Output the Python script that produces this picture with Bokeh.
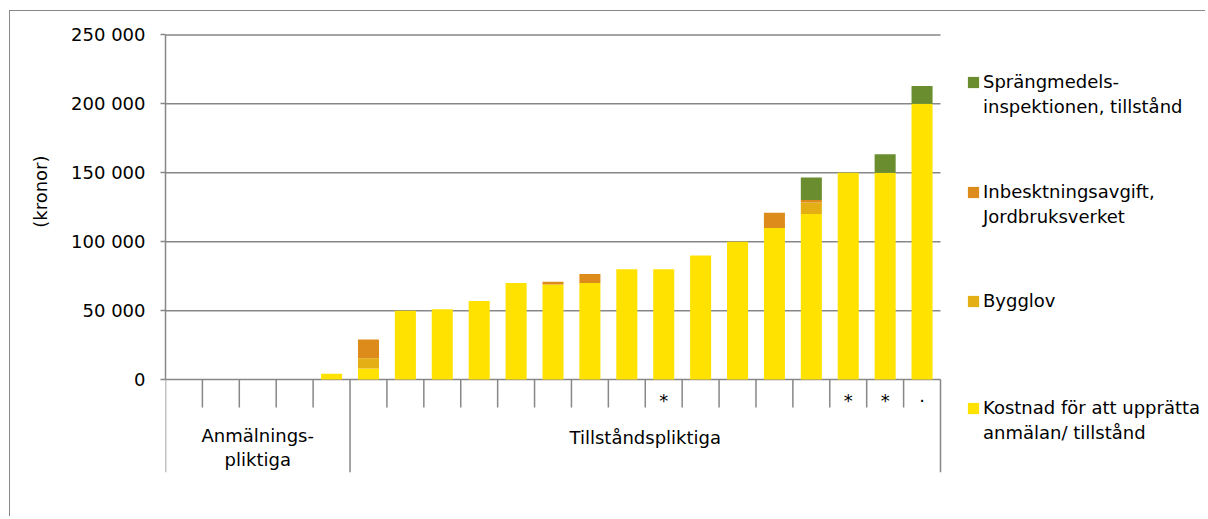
from bokeh.plotting import figure
from bokeh.models import ColumnDataSource, Range1d, FixedTicker, Legend, LegendItem, Title
from bokeh.embed import file_html
from bokeh.resources import INLINE
from bokeh.core.properties import value

# ---------------- data ----------------
categories = ["A1", "A2", "A3", "A4", "A5",
              "T1", "T2", "T3", "T4", "T5", "T6", "T7", "T8", "T9", "T10",
              "T11", "T12", "T13", "T14", "T15", "T16"]
marks = ["", "", "", "", "",
         "", "", "", "", "", "", "", "", "*", "",
         "", "", "", "*", "*", "·"]
groups = ["Anmälnings-\npliktiga", "Tillståndspliktiga"]
group_sizes = [5, 16]

kostnad = [0, 0, 0, 0, 4300,
           8000, 50000, 51000, 57000, 70000, 69000, 70000, 80000, 80000, 90000,
           100000, 110000, 120000, 150000, 150000, 200000]
bygglov = [0, 0, 0, 0, 0,
           7500, 0, 0, 0, 0, 0, 0, 0, 0, 0,
           0, 0, 8500, 0, 0, 0]
inbesk = [0, 0, 0, 0, 0,
          13500, 0, 0, 0, 0, 2000, 6500, 0, 0, 0,
          0, 11000, 1700, 0, 0, 0]
spraeng = [0, 0, 0, 0, 0,
           0, 0, 0, 0, 0, 0, 0, 0, 0, 0,
           0, 0, 16400, 0, 13500, 13000]

# legend labels, one list of lines per series
series_labels = [["Kostnad för att upprätta", "anmälan/ tillstånd"],
                 ["Bygglov"],
                 ["Inbesktningsavgift,", "Jordbruksverket"],
                 ["Sprängmedels-", "inspektionen, tillstånd"]]
series_colors = ["#FFE200", "#E4AF14", "#DD8C1B", "#6A8E2F"]

y_ticks = [0, 50000, 100000, 150000, 200000, 250000]
y_tick_labels = ["0", "50 000", "100 000", "150 000", "200 000", "250 000"]
y_title = "(kronor)"

# ---------------- layout constants ----------------
FONT = "DejaVu Sans"
GRAY = "#878787"
n = len(categories)
y_min = -67391
y_max = 251000
y_tick_len = -20290
y_mark = -15217
W, H = 1196, 506
BL, BT, BB = 155, 22, 45
x_end = n * (W - BL) / 775

src = ColumnDataSource(dict(
    x=[i + 0.5 for i in range(n)],
    kostnad=kostnad, bygglov=bygglov, inbesk=inbesk, spraeng=spraeng,
))

p = figure(width=W, height=H, output_backend="svg", toolbar_location=None,
           x_range=Range1d(0, x_end), y_range=Range1d(y_min, y_max),
           x_axis_location=None,
           min_border_left=BL, min_border_right=0,
           min_border_top=BT, min_border_bottom=BB)
p.outline_line_color = None
p.xgrid.visible = False
p.ygrid.visible = False
p.styles = {"margin-left": "9px", "margin-top": "10px",
            "border-left": "1px solid #888888", "border-top": "1px solid #888888"}

# y axis
ax = p.yaxis[0]
ax.ticker = FixedTicker(ticks=y_ticks)
ax.major_label_overrides = {t: l for t, l in zip(y_ticks, y_tick_labels)}
ax.bounds = (0, 250000)
ax.axis_line_color = GRAY
ax.axis_line_width = 1.5
ax.major_tick_line_color = GRAY
ax.major_tick_line_width = 1.5
ax.major_tick_in = 0
ax.major_tick_out = 5
ax.minor_tick_line_color = None
ax.major_label_standoff = 15
ax.major_label_text_font = FONT
ax.major_label_text_font_size = "18px"
ax.major_label_text_color = "black"

# y axis title, positioned beside the value part of the axis
p.add_layout(Title(text=y_title, align="right", offset=122, vertical_align="middle",
                   standoff=33, text_font=FONT, text_font_size="18px",
                   text_font_style="normal", text_color="black"), "left")

# horizontal gridlines across the category area only
p.segment(x0=[0] * len(y_ticks), y0=y_ticks, x1=[n] * len(y_ticks), y1=y_ticks,
          line_color=GRAY, line_width=1.5)

# bars
rs = p.vbar_stack(["kostnad", "bygglov", "inbesk", "spraeng"], x="x", width=0.57,
                  color=series_colors, line_color=None, source=src)
# invisible renderer used for continuation lines of legend labels
r_blank = p.vbar(x=[], top=[], width=0.5, fill_alpha=0, line_alpha=0)

# category separators
bounds = []
acc = 0
for g in group_sizes:
    bounds.append(acc)
    acc += g
bounds.append(acc)
tick_x = [i for i in range(n + 1) if i not in bounds]
p.segment(x0=tick_x, y0=[0] * len(tick_x), x1=tick_x, y1=[y_tick_len] * len(tick_x),
          line_color=GRAY, line_width=1.5)
p.segment(x0=bounds, y0=[0] * len(bounds), x1=bounds, y1=[y_min] * len(bounds),
          line_color=GRAY, line_width=1.5)

# category marks
p.text(x=[i + 0.5 for i in range(n)], y=[y_mark] * n, text=marks,
       text_align="center", text_baseline="middle", text_font=value(FONT),
       text_font_size="18px", text_color="black")

# group labels
gx = [(bounds[i] + bounds[i + 1]) / 2 for i in range(len(groups))]
gy = [-49275, -42029]
p.text(x=gx, y=gy, text=groups, text_align="center", text_baseline="middle",
       text_font=value(FONT), text_font_size="18px", text_color="black",
       text_line_height=1.15)

# legends (one per entry, top to bottom: green, orange, bygglov, yellow)
legend_locs = [(801, 353), (801, 243), (801, 159), (801, 27)]
order = [3, 2, 1, 0]
for k, si in enumerate(order):
    lines = series_labels[si]
    items = [LegendItem(label=lines[0], renderers=[rs[si]])]
    items += [LegendItem(label=t, renderers=[r_blank]) for t in lines[1:]]
    lg = Legend(items=items, location=legend_locs[k], padding=0, margin=0, spacing=0,
                border_line_color=None, background_fill_alpha=0,
                glyph_width=14, glyph_height=14, label_standoff=3, label_height=25,
                label_text_font=FONT, label_text_font_size="18px",
                label_text_color="black")
    p.add_layout(lg)

open("out.html", "w").write(file_html(p, INLINE))
